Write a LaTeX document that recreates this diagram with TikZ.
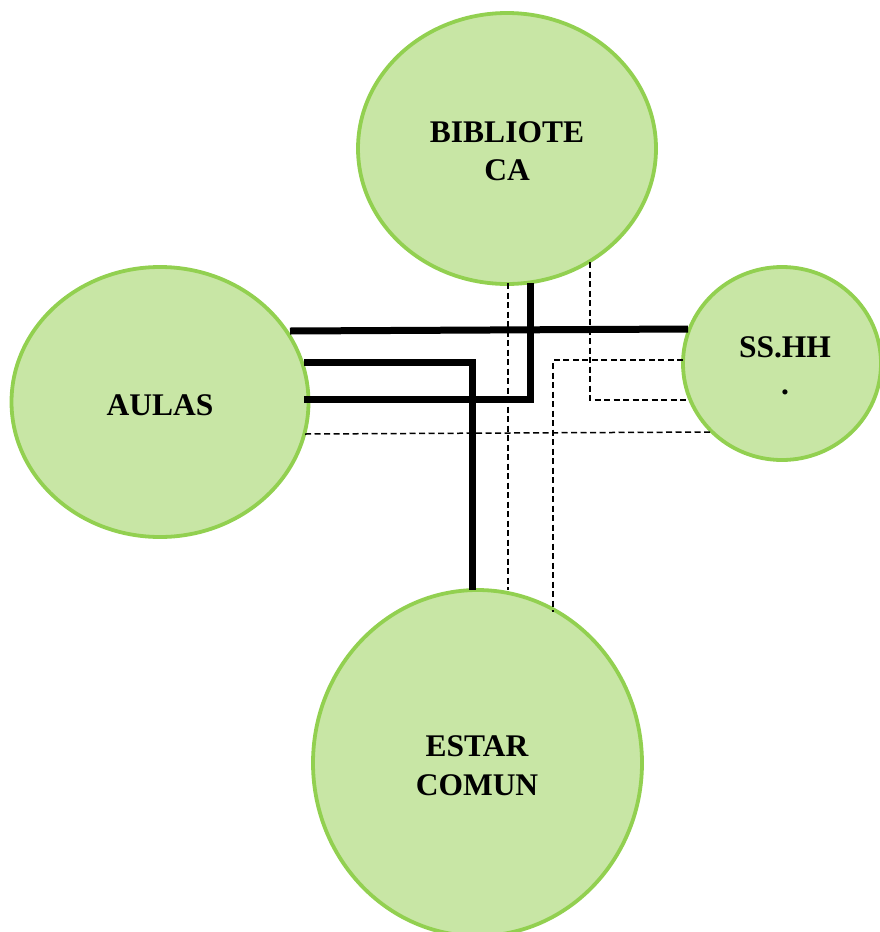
\documentclass[tikz,border=0pt]{standalone}
\usepackage{fontspec}
\setmainfont{Liberation Serif}
\usetikzlibrary{shapes.geometric}
\definecolor{roomfill}{HTML}{C8E6A5}
\definecolor{roomline}{HTML}{92D050}
\tikzset{
  room/.style={ellipse, draw=roomline, fill=roomfill, line width=3.8pt, inner sep=0pt},
  roomlabel/.style={anchor=base, inner sep=0pt, font=\fontsize{31.5}{38}\selectfont\bfseries},
  mainlink/.style={line width=7pt, black},
  sublink/.style={line width=1.5pt, black, dash pattern=on 6pt off 3.5pt},
}
\begin{document}
\begin{tikzpicture}[x=1pt, y=-1pt]
  \useasboundingbox (0,0) rectangle (880,932);

  % rooms
  \node[room, minimum width=298, minimum height=271] (biblio) at (507,148.5) {};
  \node[room, minimum width=297, minimum height=270] (aulas)  at (160,402) {};
  \node[room, minimum width=198, minimum height=193] (sshh)   at (782,363.5) {};
  \node[room, minimum width=329, minimum height=346] (estar)  at (477.5,763) {};

  % labels
  \node[roomlabel] (tb1) at (507,142) {BIBLIOTE};
  \node[roomlabel] (tb2) at (507,180) {CA};
  \node[roomlabel] (ta)  at (160,415) {AULAS};
  \node[roomlabel] (ts1) at (785,357) {SS.HH};
  \node[roomlabel] (ts2) at (785,394) {.};
  \node[roomlabel] (te1) at (477,756) {ESTAR};
  \node[roomlabel] (te2) at (477,795) {COMUN};

  % connection points on the room borders
  \coordinate (a1) at (290,331);
  \coordinate (a2) at (304,362);
  \coordinate (a3) at (304,399);
  \coordinate (a4) at (305,434);
  \coordinate (b1) at (530,283);
  \coordinate (b2) at (590,262);
  \coordinate (b3) at (508,283);
  \coordinate (s1) at (688,329);
  \coordinate (s2) at (686,400);
  \coordinate (s3) at (683,360);
  \coordinate (s4) at (713,432);
  \coordinate (e1) at (472,590);
  \coordinate (e2) at (508,590);
  \coordinate (e3) at (553,612);

  % main links
  \draw[mainlink] (a1) -- (s1);
  \draw[mainlink] (a2) -| (e1);
  \draw[mainlink] (a3) -| (b1);

  % secondary links
  \draw[sublink] (a4) -- (s4);
  \draw[sublink] (b2) |- (s2);
  \draw[sublink] (b3) -- (e2);
  \draw[sublink] (s3) -| (e3);
\end{tikzpicture}
\end{document}
